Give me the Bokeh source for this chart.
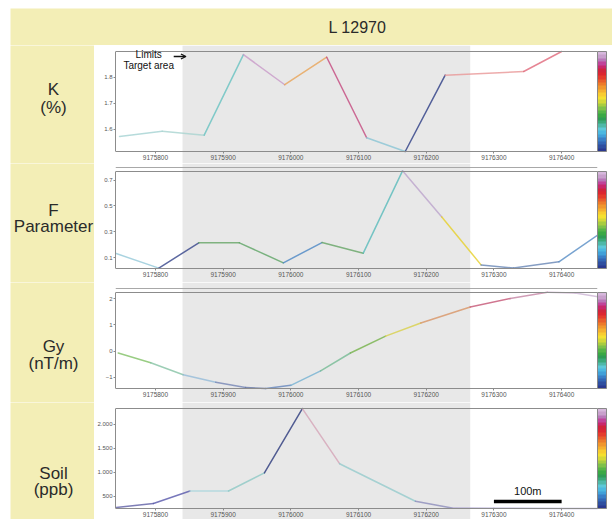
from bokeh.plotting import figure
from bokeh.layouts import column, row
from bokeh.models import (Range1d, LinearAxis, FixedTicker, BoxAnnotation, Span, ColorBar, Spacer,
                          LinearColorMapper, Label, Arrow, OpenHead, BasicTickFormatter)
from bokeh.embed import file_html
from bokeh.resources import INLINE
from bokeh.core.properties import value

# ---------------- data ----------------
title_text = "L 12970"
x_ticks = [9175800, 9175900, 9176000, 9176100, 9176200, 9176300, 9176400]
target_area = [9175840, 9176265]
scale_bar = [9176300, 9176400]

k_x = [9175747, 9175810, 9175872, 9175930, 9175991, 9176053, 9176112, 9176169, 9176228, 9176344, 9176400]
k_val = [1.573, 1.593, 1.578, 1.888, 1.772, 1.878, 1.568, 1.515, 1.809, 1.823, 1.90]
k_ticks = [1.6, 1.7, 1.8]

f_x = [9175742, 9175805, 9175864, 9175924, 9175989, 9176046, 9176107, 9176165, 9176223, 9176281, 9176329, 9176396, 9176455]
f_val = [0.131, 0.018, 0.214, 0.214, 0.059, 0.216, 0.134, 0.772, 0.415, 0.043, 0.018, 0.067, 0.28]
f_ticks = [0.1, 0.3, 0.5, 0.7]

gy_x = [9175745, 9175793, 9175841, 9175889, 9175933, 9175963, 9176000, 9176044, 9176088, 9176140,
        9176192, 9176265, 9176324, 9176379, 9176420, 9176455]
gy_val = [-0.07, -0.44, -0.90, -1.18, -1.38, -1.42, -1.30, -0.75, -0.07, 0.57,
          1.07, 1.68, 2.00, 2.24, 2.21, 2.06]
gy_ticks = [-1, 0, 1, 2]

soil_x = [9175742, 9175797, 9175851, 9175908, 9175961, 9176017, 9176072, 9176184, 9176238, 9176300, 9176400, 9176455]
soil_val = [266, 349, 610, 610, 988, 2330, 1180, 397, 258, 250, 248, 247]
soil_ticks = [500, 1000, 1500, 2000]
soil_tick_labels = ["500", "1.000", "1.500", "2.000"]

# ---------------- styles ----------------
FONT = "Liberation Sans"
YELLOW = "#f3eeb6"
BAND = "#e8e8e8"
AXIS = "#8c8c8c"
PALETTE = ["#2b3990", "#2f4fa0", "#3366b5", "#3a7fc6", "#41a0d8", "#4cb8e0", "#5ec8d8",
           "#4fb8a8", "#3aa878", "#2e9c55", "#3aa845", "#56b448", "#7ec04a", "#a8cc40",
           "#d4d838", "#f4e030", "#f8cc30", "#f5b02e", "#f0962c", "#ec7a2a", "#e85c2a",
           "#e43c2c", "#dc2630", "#d0243c", "#c8286c", "#c0449a", "#b878b8", "#c8a0cc", "#d6b8dc"]

k_colors = ["#a4d2d2", "#a8d3cf", "#66c2c0", "#c89ac8", "#e8a458", "#c4487e", "#88c4d4",
            "#2c3c84", "#e89696", "#e0687a"]
f_colors = ["#94c8d8", "#34448a", "#64a464", "#5ca464", "#4a86c4", "#64a464", "#58baba",
            "#bca4cc", "#e6d028", "#6684b4", "#6684b4", "#568cc4"]
gy_colors = ["#80c064", "#84c2a4", "#94bad8", "#7484b4", "#6474a4", "#6484bc", "#74b2d2",
             "#74ba94", "#74b248", "#d8d048", "#d89464", "#c45474", "#c484a4", "#c8aaca", "#ccb4d4"]
soil_colors = ["#5e5ea4", "#5656aa", "#a8d4dc", "#8cc8c4", "#2a387c", "#d4a4b6", "#94cacc",
               "#8c8cba", "#aca4d2", "#aca4d2", "#aca4d2"]

LEFT_PAD = 10
TOP_PAD = 8
LABEL_W = 84
PANEL_W = 518
TOTAL_W = LABEL_W + PANEL_W
TITLE_H = 37
X_RANGE = (9175741, 9176453)

panels = [
    dict(label=["K", "(%)"], label_off=[44, 62], x=k_x, y=k_val, colors=k_colors, lo=1.515, hi=1.90,
         ticks=k_ticks, labels=None, H=118, top=6, bot=106, double=False),
    dict(label=["F", "Parameter"], label_off=[47, 63], x=f_x, y=f_val, colors=f_colors, lo=0.015, hi=0.767,
         ticks=f_ticks, labels=None, H=119, top=8, bot=105, double=True),
    dict(label=["Gy", "(nT/m)"], label_off=[64, 81], x=gy_x, y=gy_val, colors=gy_colors, lo=-1.42, hi=2.23,
         ticks=gy_ticks, labels=None, H=120, top=10, bot=106, double=True),
    dict(label=["Soil", "(ppb)"], label_off=[71, 87], x=soil_x, y=soil_val, colors=soil_colors, lo=246, hi=2331,
         ticks=soil_ticks, labels=soil_tick_labels, H=117, top=6, bot=106, double=False),
]


def y_at(P, off):
    s = (P["hi"] - P["lo"]) / (P["bot"] - P["top"])
    return P["hi"] - (off - P["top"]) * s


def bare(width, height, xr, yr):
    p = figure(width=width, height=height, x_range=Range1d(*xr), y_range=Range1d(*yr),
               toolbar_location=None, output_backend="svg", min_border=0,
               x_axis_location=None, y_axis_location=None, outline_line_color=None,
               background_fill_color=YELLOW, border_fill_color=YELLOW)
    p.xgrid.visible = False
    p.ygrid.visible = False
    return p


# title
tp = bare(TOTAL_W, TITLE_H, (0, TOTAL_W), (0, TITLE_H))
tp.add_layout(Label(x=347, y=TITLE_H - 19, text=title_text, text_align="center", text_baseline="middle",
                    text_font=FONT, text_font_size="16px", text_color="#2a2a2a"))

rows = []
for P in panels:
    H = P["H"]
    lp = bare(LABEL_W, H, (0, LABEL_W), (0, H))
    lp.text(x=[43] * len(P["label"]), y=[H - o for o in P["label_off"]], text=P["label"],
            text_align="center", text_baseline="middle", text_font=value(FONT),
            text_font_size="17px", text_color="#2a2a2a")

    s = (P["hi"] - P["lo"]) / (P["bot"] - P["top"])
    y0 = P["lo"] - (H - P["bot"]) * s
    y1 = P["hi"] + P["top"] * s
    p = figure(width=PANEL_W, height=H, x_range=Range1d(*X_RANGE), y_range=Range1d(y0, y1),
               toolbar_location=None, output_backend="svg",
               min_border_left=21, min_border_right=15, min_border_top=0, min_border_bottom=0,
               x_axis_location=None, y_axis_location=None, outline_line_color=None,
               background_fill_color="white", border_fill_color="white")
    p.xgrid.visible = False
    p.ygrid.visible = False

    p.add_layout(BoxAnnotation(left=target_area[0], right=target_area[1], fill_color=BAND,
                               fill_alpha=1, line_color=None, level="underlay"))

    xa = LinearAxis(fixed_location=P["lo"], ticker=FixedTicker(ticks=x_ticks),
                    formatter=BasicTickFormatter(use_scientific=False))
    ya = LinearAxis(ticker=FixedTicker(ticks=P["ticks"]), bounds=(P["lo"], P["hi"]))
    if P["labels"]:
        ya.major_label_overrides = dict(zip(P["ticks"], P["labels"]))
    for ax in (xa, ya):
        ax.axis_line_color = AXIS
        ax.major_tick_line_color = AXIS
        ax.major_tick_out = 2
        ax.major_tick_in = 0
        ax.minor_tick_line_color = None
        ax.major_label_standoff = 1
        ax.major_label_text_font = FONT
        ax.major_label_text_color = "#555555"
    xa.major_label_text_font_size = "6.5px"
    ya.major_label_text_font_size = "6px"
    p.add_layout(xa, "below")
    p.add_layout(ya, "left")

    p.add_layout(Span(location=P["hi"], dimension="width", line_color=AXIS, line_width=1))
    if P["double"]:
        p.add_layout(Span(location=P["hi"] + 4 * s, dimension="width", line_color="#a8a8a8", line_width=1))

    xs, ys = P["x"], P["y"]
    p.segment(x0=xs[:-1], x1=xs[1:], y0=ys[:-1], y1=ys[1:], line_color=P["colors"],
              line_width=1.5, line_alpha=0.8, line_cap="round")

    cb = ColorBar(color_mapper=LinearColorMapper(palette=PALETTE, low=0, high=1),
                  width=9, height=P["bot"] - P["top"], padding=0, margin=1,
                  location=(0, H - P["bot"]), ticker=FixedTicker(ticks=[]),
                  major_label_text_font_size="0px", major_tick_line_color=None,
                  bar_line_color="#888888", border_line_color=None, background_fill_alpha=0)
    p.add_layout(cb, "right")
    rows.append(row(lp, p, spacing=0))
    P["fig"] = p

# annotations
K = panels[0]
kp = K["fig"]
for txt, off in (("Limits", 9), ("Target area", 20)):
    kp.add_layout(Label(x=9175790, y=y_at(K, off), text=txt, text_align="center", text_baseline="middle",
                        text_font=FONT, text_font_size="10px", text_color="#111111"))
kp.add_layout(Arrow(end=OpenHead(size=5, line_width=1.3, line_color="#111111"),
                    x_start=9175827, y_start=y_at(K, 11), x_end=9175845, y_end=y_at(K, 11),
                    line_width=1.3, line_color="#111111"))

S = panels[3]
sp = S["fig"]
sp.segment(x0=[scale_bar[0]], x1=[scale_bar[1]], y0=[y_at(S, 99)], y1=[y_at(S, 99)],
           line_color="black", line_width=3.5)
sp.add_layout(Label(x=(scale_bar[0] + scale_bar[1]) / 2, y=y_at(S, 88), text="100m", text_align="center",
                    text_baseline="middle", text_font=FONT, text_font_size="11px", text_color="#111111"))

inner = column(tp, *rows, spacing=0)
layout = column(Spacer(height=TOP_PAD), row(Spacer(width=LEFT_PAD), inner, spacing=0), spacing=0)
open("out.html", "w").write(file_html(layout, INLINE))
